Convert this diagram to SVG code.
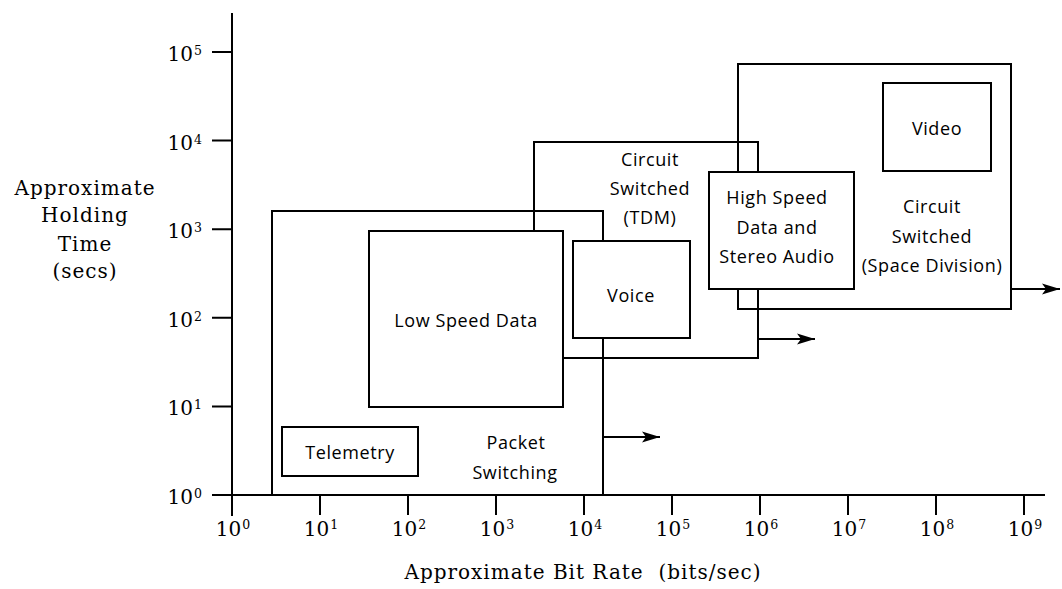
<svg xmlns="http://www.w3.org/2000/svg" width="1062" height="589" viewBox="0 0 1062 589">
<style>
.ln{stroke:#000;stroke-width:2;fill:none;}
.bx{stroke:#000;stroke-width:2;fill:#fff;}
.ob{stroke:#000;stroke-width:2;fill:none;}
.s{font-family:"Open Sans","DejaVu Sans",sans-serif;font-size:18px;letter-spacing:0.6px;fill:#000;text-anchor:middle;}
.n{font-family:"DejaVu Serif","Liberation Serif",serif;font-size:20px;fill:#000;}
.ny{text-anchor:end;}
.nx{text-anchor:middle;}
.sup{font-size:12.5px;}
.lab{font-family:"DejaVu Serif","Liberation Serif",serif;font-size:20px;letter-spacing:1px;fill:#000;text-anchor:middle;}
</style>
<defs>
<marker id="ah" markerWidth="20" markerHeight="14" refX="18" refY="7" orient="auto" markerUnits="userSpaceOnUse">
<path d="M0,1.5 L18,7 L0,12.5 L4,7 Z" fill="#000"/>
</marker>
</defs>
<rect width="1062" height="589" fill="#fff"/>

<g id="axes">
<line class="ln" x1="232" y1="13" x2="232" y2="516"/>
<line class="ln" x1="212" y1="495" x2="1045" y2="495"/>
<path class="ln" d="M212,52H232M212,140.6H232M212,229.2H232M212,317.8H232M212,406.4H232"/>
<path class="ln" d="M320,495V515M408,495V515M496,495V515M584,495V515M672,495V515M760,495V515M848,495V515M936,495V515M1024,495V515"/>
<text class="n ny" x="202" y="61">10<tspan class="sup" dx="1" dy="-6">5</tspan></text>
<text class="n ny" x="202" y="149.6">10<tspan class="sup" dx="1" dy="-6">4</tspan></text>
<text class="n ny" x="202" y="238.2">10<tspan class="sup" dx="1" dy="-6">3</tspan></text>
<text class="n ny" x="202" y="326.8">10<tspan class="sup" dx="1" dy="-6">2</tspan></text>
<text class="n ny" x="202" y="415.4">10<tspan class="sup" dx="1" dy="-6">1</tspan></text>
<text class="n ny" x="202" y="504">10<tspan class="sup" dx="1" dy="-6">0</tspan></text>
<text class="n nx" x="233" y="536">10<tspan class="sup" dx="1" dy="-7">0</tspan></text>
<text class="n nx" x="321" y="536">10<tspan class="sup" dx="1" dy="-7">1</tspan></text>
<text class="n nx" x="409" y="536">10<tspan class="sup" dx="1" dy="-7">2</tspan></text>
<text class="n nx" x="497" y="536">10<tspan class="sup" dx="1" dy="-7">3</tspan></text>
<text class="n nx" x="585" y="536">10<tspan class="sup" dx="1" dy="-7">4</tspan></text>
<text class="n nx" x="673" y="536">10<tspan class="sup" dx="1" dy="-7">5</tspan></text>
<text class="n nx" x="761" y="536">10<tspan class="sup" dx="1" dy="-7">6</tspan></text>
<text class="n nx" x="849" y="536">10<tspan class="sup" dx="1" dy="-7">7</tspan></text>
<text class="n nx" x="937" y="536">10<tspan class="sup" dx="1" dy="-7">8</tspan></text>
<text class="n nx" x="1025" y="536">10<tspan class="sup" dx="1" dy="-7">9</tspan></text>
<text class="lab" x="85" y="195">Approximate</text>
<text class="lab" x="85" y="222">Holding</text>
<text class="lab" x="85" y="251">Time</text>
<text class="lab" x="85" y="278">(secs)</text>
<text class="lab" x="583" y="579" xml:space="preserve">Approximate Bit Rate  (bits/sec)</text>
</g>

<g id="packet-switching">
<rect class="ob" x="272" y="211" width="331" height="284"/>
<text class="s" x="516" y="449">Packet</text>
<text class="s" x="515" y="479">Switching</text>
</g>
<g id="circuit-tdm">
<rect class="ob" x="534" y="142" width="224" height="216"/>
<text class="s" x="650" y="166">Circuit</text>
<text class="s" x="650" y="195">Switched</text>
<text class="s" x="650" y="224">(TDM)</text>
</g>
<g id="circuit-space">
<rect class="ob" x="738" y="64" width="273" height="245"/>
<text class="s" x="932" y="213">Circuit</text>
<text class="s" x="932" y="243">Switched</text>
<text class="s" x="932" y="272">(Space Division)</text>
</g>
<g id="low-speed-data">
<rect class="bx" x="369" y="231" width="194" height="176"/>
<text class="s" x="466" y="327">Low Speed Data</text>
</g>
<g id="voice">
<rect class="bx" x="573" y="241" width="117" height="97"/>
<text class="s" x="631" y="302">Voice</text>
</g>
<g id="high-speed">
<rect class="bx" x="709" y="172" width="145" height="117"/>
<text class="s" x="777" y="204">High Speed</text>
<text class="s" x="777" y="234">Data and</text>
<text class="s" x="777" y="263">Stereo Audio</text>
</g>
<g id="video">
<rect class="bx" x="883" y="83" width="108" height="88"/>
<text class="s" x="937" y="135">Video</text>
</g>
<g id="telemetry">
<rect class="bx" x="282" y="427" width="136" height="49"/>
<text class="s" x="350" y="459">Telemetry</text>
</g>

<g id="connectors">
<line class="ln" x1="603" y1="437" x2="660" y2="437" marker-end="url(#ah)"/>
<line class="ln" x1="758" y1="339" x2="815" y2="339" marker-end="url(#ah)"/>
<line class="ln" x1="1011" y1="289" x2="1060" y2="289" marker-end="url(#ah)"/>
</g>
</svg>
